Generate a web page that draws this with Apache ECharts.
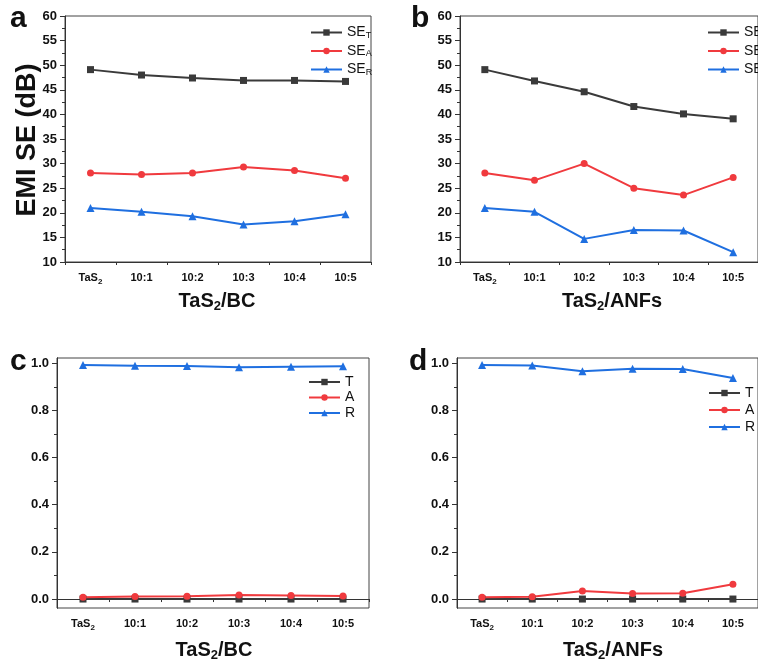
<!DOCTYPE html>
<html>
<head>
<meta charset="utf-8">
<script src="https://cdn.jsdelivr.net/npm/echarts@6/dist/echarts.min.js"></script>
<style>html,body{margin:0;padding:0;background:#fff}#c{width:758px;height:668px}</style>
</head>
<body>
<div id="c"></div>
<script>
var categories = ['TaS2', '10:1', '10:2', '10:3', '10:4', '10:5'];
// panel a: TaS2/BC EMI SE (dB)
var aSET = [49.1, 48.0, 47.4, 46.9, 46.9, 46.7];
var aSEA = [28.1, 27.8, 28.1, 29.3, 28.6, 27.0];
var aSER = [21.0, 20.2, 19.3, 17.6, 18.3, 19.7];
// panel b: TaS2/ANFs EMI SE (dB)
var bSET = [49.1, 46.8, 44.6, 41.6, 40.1, 39.1];
var bSEA = [28.1, 26.6, 30.0, 25.0, 23.6, 27.2];
var bSER = [21.0, 20.2, 14.7, 16.5, 16.4, 12.0];
// panel c: TaS2/BC power coefficients
var cT = [0.0, 0.0, 0.0, 0.0, 0.0, 0.0];
var cA = [0.008, 0.011, 0.012, 0.017, 0.015, 0.013];
var cR = [0.992, 0.989, 0.988, 0.983, 0.985, 0.987];
// panel d: TaS2/ANFs power coefficients
var dT = [0.0, 0.0, 0.0, 0.0, 0.0, 0.0];
var dA = [0.008, 0.010, 0.034, 0.024, 0.025, 0.063];
var dR = [0.992, 0.990, 0.966, 0.976, 0.975, 0.937];
var coefTicks = [0, 0.2, 0.4, 0.6, 0.8, 1.0];
var coefMinor = [0.1, 0.3, 0.5, 0.7, 0.9];

var BLACK = '#3a3a3a', RED = '#f03a3e', BLUE = '#1f6fe0';
var FONT = 'Liberation Sans';

var grids = [
  {left: 65, top: 16, width: 306, height: 246},
  {left: 460, top: 16, width: 305, height: 246},
  {left: 57, top: 358, width: 312, height: 250},
  {left: 457, top: 358, width: 311, height: 250}
];
grids.forEach(function (g) { g.show = true; g.borderColor = '#444'; g.borderWidth = 1; g.backgroundColor = 'transparent'; });

var xAxes = [], yAxes = [];
for (var i = 0; i < 4; i++) {
  xAxes.push({
    type: 'category', gridIndex: i, data: categories, boundaryGap: true,
    axisLine: {lineStyle: {color: '#333', width: 1}},
    axisTick: {alignWithLabel: true, interval: 0, length: 5, lineStyle: {color: '#333'}},
    axisLabel: {
      margin: 9, color: '#111', interval: 0,
      formatter: function (v) { return v === 'TaS2' ? '{b|TaS}{s|2}' : '{b|' + v + '}'; },
      rich: {
        b: {fontFamily: FONT, fontWeight: 'bold', fontSize: 11, color: '#111', lineHeight: 14},
        s: {fontFamily: FONT, fontWeight: 'bold', fontSize: 8, color: '#111', lineHeight: 14, padding: [7, 0, 0, 0]}
      }
    },
    splitLine: {show: false}
  });
  xAxes.push({
    type: 'category', gridIndex: i, data: categories, boundaryGap: true, position: 'bottom',
    axisLine: {show: true, lineStyle: {color: '#333', width: 1}},
    axisTick: {show: true, alignWithLabel: false, interval: 0, length: 3, lineStyle: {color: '#333'}},
    axisLabel: {show: false}, splitLine: {show: false}
  });
}
var yLabel = {fontFamily: FONT, fontWeight: 'bold', fontSize: 13, color: '#111', margin: 8};
for (var j = 0; j < 2; j++) {
  yAxes.push({
    type: 'value', gridIndex: j, min: 10, max: 60, interval: 5,
    axisLine: {show: true, lineStyle: {color: '#333'}},
    axisTick: {show: true, length: 5, lineStyle: {color: '#333'}},
    minorTick: {show: true, splitNumber: 2, length: 3, lineStyle: {color: '#333'}},
    axisLabel: yLabel, splitLine: {show: false}
  });
}
for (var k = 2; k < 4; k++) {
  yAxes.push({
    type: 'value', gridIndex: k, min: -0.038, max: 1.022,
    axisLine: {show: true, lineStyle: {color: '#333'}},
    axisTick: {show: true, length: 5, customValues: coefTicks, lineStyle: {color: '#333'}},
    axisLabel: Object.assign({}, yLabel, {customValues: coefTicks, formatter: function (v) { return v.toFixed(1); }}),
    splitLine: {show: false}
  });
  yAxes.push({
    type: 'value', gridIndex: k, min: -0.038, max: 1.022, position: 'left',
    axisLine: {show: true, lineStyle: {color: '#333'}},
    axisTick: {show: true, length: 3, customValues: coefMinor, lineStyle: {color: '#333'}},
    axisLabel: {show: false}, splitLine: {show: false}
  });
}

function mk(name, data, color, symbol, xi, yi) {
  return {
    type: 'line', name: name, data: data, xAxisIndex: xi, yAxisIndex: yi,
    symbol: symbol, symbolSize: symbol === 'triangle' ? 8 : 7,
    lineStyle: {color: color, width: 2}, itemStyle: {color: color},
    z: 3
  };
}
var series = [
  mk('SE_T', aSET, BLACK, 'rect', 0, 0), mk('SE_A', aSEA, RED, 'circle', 0, 0), mk('SE_R', aSER, BLUE, 'triangle', 0, 0),
  mk('SE_T', bSET, BLACK, 'rect', 2, 1), mk('SE_A', bSEA, RED, 'circle', 2, 1), mk('SE_R', bSER, BLUE, 'triangle', 2, 1),
  mk('T', cT, BLACK, 'rect', 4, 2), mk('A', cA, RED, 'circle', 4, 2), mk('R', cR, BLUE, 'triangle', 4, 2),
  mk('T', dT, BLACK, 'rect', 6, 4), mk('A', dA, RED, 'circle', 6, 4), mk('R', dR, BLUE, 'triangle', 6, 4)
];

function seFmt(n) { return '{m|SE}{s|' + n.split('_')[1] + '}'; }
var legRich = {
  m: {fontFamily: FONT, fontSize: 14, color: '#111', lineHeight: 15},
  s: {fontFamily: FONT, fontSize: 9, color: '#111', lineHeight: 15, padding: [6, 0, 0, 0]}
};
function legend(left, top, names, gap, fmt) {
  return {
    orient: 'vertical', left: left, top: top, data: names, itemWidth: 31, itemHeight: 8,
    itemGap: gap, padding: 0, selectedMode: false,
    textStyle: {fontFamily: FONT, fontSize: 14, color: '#111', rich: legRich},
    formatter: fmt
  };
}
var legends = [
  legend(310, 25, ['SE_T', 'SE_A', 'SE_R'], 3.5, seFmt),
  legend(707, 25, ['SE_T', 'SE_A', 'SE_R'], 3.5, seFmt),
  legend(308, 375, ['T', 'A', 'R'], 1.5, '{name}'),
  legend(708, 386, ['T', 'A', 'R'], 3, '{name}')
];

var titleRich = {
  b: {fontFamily: FONT, fontWeight: 'bold', fontSize: 20, fill: '#111', lineHeight: 24},
  s: {fontFamily: FONT, fontWeight: 'bold', fontSize: 13, fill: '#111', lineHeight: 24, padding: [10, 0, 0, 0]}
};
function title(x, y, rest) {
  return {type: 'text', x: x, y: y, style: {text: '{b|TaS}{s|2}{b|/' + rest + '}', rich: titleRich, align: 'center', verticalAlign: 'middle'}};
}
function letter(x, y, t) {
  return {type: 'text', x: x, y: y, style: {text: t, fontFamily: FONT, fontWeight: 'bold', fontSize: 30, fill: '#111', align: 'left', verticalAlign: 'middle'}};
}
var graphics = [
  title(217, 301, 'BC'), title(612, 301, 'ANFs'), title(214, 650, 'BC'), title(613, 650, 'ANFs'),
  letter(10, 19, 'a'), letter(411, 19, 'b'), letter(10, 362, 'c'), letter(409, 362, 'd'),
  {type: 'text', x: 28, y: 140, rotation: Math.PI / 2,
   style: {text: 'EMI SE (dB)', fontFamily: FONT, fontWeight: 'bold', fontSize: 27, fill: '#111', align: 'center', verticalAlign: 'middle'}}
];

var chart = echarts.init(document.getElementById('c'), null, {renderer: 'canvas'});
chart.setOption({
  animation: false,
  backgroundColor: '#fff',
  grid: grids, xAxis: xAxes, yAxis: yAxes, series: series, legend: legends, graphic: graphics
});
</script>
</body>
</html>
